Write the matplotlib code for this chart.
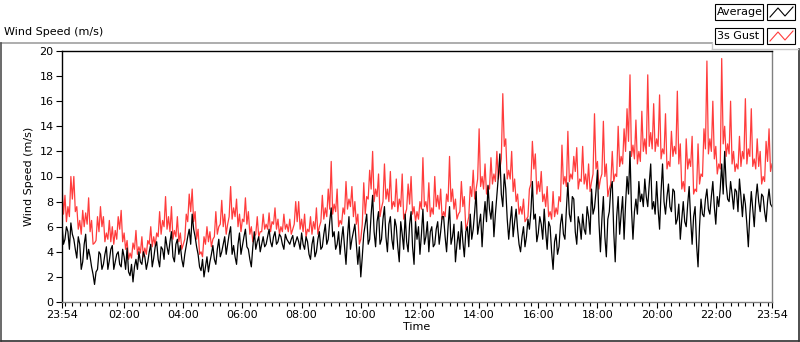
import numpy as np
import matplotlib
matplotlib.use("Agg")
import matplotlib.pyplot as plt
from matplotlib.patches import Rectangle
from matplotlib.lines import Line2D

# readings every 3 minutes after 23:54, kept as two lists:
# *_a at minutes 0, 6, 12, ... and *_b at minutes 3, 9, 15, ...
gust_a = [
    # 23:54 - 03:54
    9.3, 8.5, 7.6, 10.0, 10.0, 7.6, 6.5, 7.3, 7.1, 8.3,
    6.5, 4.7, 6.8, 7.6, 6.8, 5.5, 6.5, 6.0, 5.7, 6.8,
    7.3, 5.5, 4.9, 3.9, 4.7, 5.7, 4.4, 5.2, 4.3, 4.9,
    6.0, 5.2, 5.5, 7.2, 6.5, 8.4, 6.8, 7.6, 5.7, 6.8,
    # 03:54 - 07:54
    5.5, 4.6, 7.0, 8.6, 9.0, 7.2, 5.8, 4.0, 5.2, 6.0,
    5.6, 5.0, 7.2, 6.0, 8.1, 7.0, 6.2, 9.2, 7.5, 8.2,
    7.0, 6.6, 8.3, 7.2, 6.0, 5.2, 6.8, 5.6, 7.0, 6.2,
    7.1, 6.4, 7.5, 6.6, 6.0, 7.0, 6.2, 6.6, 5.8, 8.0,
    # 07:54 - 11:54
    8.0, 6.6, 7.0, 5.8, 6.8, 6.4, 7.5, 6.0, 8.5, 7.5,
    9.0, 11.2, 7.8, 9.0, 6.5, 7.5, 9.6, 8.2, 9.2, 8.0,
    7.0, 5.0, 9.5, 8.4, 10.5, 12.0, 9.0, 10.2, 7.5, 11.0,
    9.0, 10.4, 8.0, 9.8, 8.2, 10.2, 7.0, 9.4, 10.0, 7.6,
    # 11:54 - 15:54
    7.2, 8.0, 11.5, 8.0, 9.5, 7.5, 10.0, 8.5, 9.0, 7.2,
    8.6, 11.6, 9.0, 8.2, 7.0, 9.6, 8.4, 6.2, 9.2, 10.5,
    9.0, 13.8, 10.0, 11.0, 9.2, 11.5, 10.2, 12.0, 10.6, 16.6,
    13.0, 10.5, 12.0, 9.8, 8.6, 7.6, 8.2, 6.6, 9.0, 12.8,
    # 15:54 - 19:54
    11.8, 9.6, 10.4, 8.6, 9.2, 7.2, 8.8, 7.5, 8.4, 12.5,
    10.0, 13.6, 10.2, 11.6, 12.3, 9.8, 12.4, 10.2, 11.0, 9.6,
    15.0, 11.2, 9.8, 14.4, 11.0, 9.0, 12.0, 10.2, 14.0, 11.6,
    13.8, 15.4, 18.1, 12.5, 14.5, 12.0, 15.2, 13.0, 18.1, 13.5,
    # 19:54 - 23:54
    15.8, 13.0, 16.5, 12.2, 15.0, 11.2, 13.6, 12.4, 16.8, 12.6,
    9.6, 13.0, 11.4, 13.2, 9.0, 12.6, 10.2, 13.8, 19.2, 13.0,
    16.0, 12.4, 11.0, 19.4, 14.0, 12.6, 16.0, 12.0, 11.0, 13.2,
    12.0, 16.2, 12.2, 15.4, 11.4, 13.0, 12.0, 10.0, 12.8, 13.8,
    11.0,
]
gust_b = [
    7.0, 6.4, 6.8, 8.2, 7.2, 5.8, 5.4, 6.0, 6.2, 5.6,
    4.6, 4.9, 5.6, 6.0, 4.8, 5.0, 4.8, 4.6, 5.0, 5.8,
    4.8, 4.2, 3.4, 3.5, 4.2, 3.8, 3.9, 3.6, 3.8, 4.6,
    4.4, 4.5, 5.2, 5.4, 6.0, 5.8, 5.6, 5.0, 5.2, 4.8,
    4.2, 5.0, 6.4, 7.2, 6.4, 5.0, 3.8, 3.6, 4.6, 4.8,
    4.4, 5.2, 5.4, 6.2, 6.0, 5.4, 6.8, 6.6, 6.8, 6.0,
    5.6, 6.4, 6.2, 5.4, 4.8, 5.4, 5.2, 5.6, 5.8, 5.8,
    5.6, 6.2, 5.8, 5.4, 5.6, 5.8, 5.6, 5.4, 6.2, 6.4,
    5.8, 5.6, 5.2, 5.6, 5.4, 5.8, 5.4, 6.4, 6.6, 6.8,
    7.4, 7.0, 7.2, 6.0, 6.2, 7.0, 7.4, 7.6, 6.8, 6.2,
    4.6, 6.2, 7.0, 8.2, 9.0, 8.0, 8.4, 6.8, 8.0, 8.2,
    8.0, 7.4, 7.6, 7.2, 7.6, 6.6, 7.4, 7.8, 7.0, 6.4,
    6.6, 7.4, 7.6, 7.2, 6.8, 7.0, 7.6, 7.4, 6.6, 6.8,
    8.0, 8.0, 7.4, 6.6, 7.2, 7.6, 5.8, 6.8, 8.4, 8.2,
    9.8, 9.2, 9.0, 8.6, 9.0, 9.4, 9.6, 9.8, 11.4, 12.4,
    9.8, 9.8, 8.8, 8.0, 7.0, 7.0, 6.4, 6.8, 9.4, 10.6,
    8.6, 8.8, 8.0, 7.6, 6.8, 6.6, 6.8, 7.0, 8.0, 9.4,
    9.2, 9.6, 9.8, 10.4, 9.0, 9.6, 9.4, 9.0, 8.8, 10.2,
    10.6, 9.0, 10.2, 10.0, 8.4, 9.4, 9.6, 10.0, 10.8, 11.0,
    12.0, 12.8, 11.6, 11.4, 11.0, 11.2, 12.0, 11.8, 12.4, 12.2,
    12.0, 12.4, 11.4, 11.8, 10.6, 10.8, 11.6, 11.8, 11.0, 9.0,
    8.8, 10.6, 10.8, 8.6, 8.8, 9.4, 10.0, 12.2, 11.8, 12.0,
    11.4, 10.2, 10.6, 12.6, 11.6, 11.8, 11.0, 10.4, 10.6, 10.8,
    11.4, 11.0, 11.6, 10.8, 10.6, 10.8, 9.4, 9.6, 11.2, 10.4,
]

avg_a = [
    # 23:54 - 03:54
    6.2, 5.0, 5.6, 6.3, 5.0, 3.5, 4.6, 3.2, 5.4, 4.2,
    2.8, 1.4, 2.6, 3.8, 3.0, 4.4, 3.3, 4.5, 3.2, 4.0,
    2.8, 3.6, 4.3, 2.1, 1.6, 3.4, 4.0, 3.0, 3.6, 3.2,
    4.6, 3.5, 4.8, 2.8, 4.2, 5.2, 3.8, 5.6, 3.2, 5.0,
    # 03:54 - 07:54
    4.5, 2.8, 4.5, 5.8, 7.0, 5.2, 3.8, 2.5, 2.0, 3.6,
    3.2, 4.5, 3.0, 5.0, 4.0, 5.2, 4.6, 6.0, 4.5, 3.0,
    5.5, 4.5, 5.8, 4.2, 2.8, 5.6, 4.8, 4.0, 5.2, 4.6,
    5.8, 4.4, 5.6, 4.8, 5.2, 4.2, 5.0, 4.6, 5.3, 4.8,
    # 07:54 - 11:54
    4.8, 5.5, 4.2, 4.8, 3.4, 5.2, 4.0, 5.6, 4.4, 6.2,
    5.0, 7.5, 5.6, 4.6, 3.8, 6.0, 3.0, 6.8, 5.0, 6.2,
    3.0, 2.0, 5.4, 7.0, 5.0, 8.5, 4.4, 7.2, 5.0, 7.6,
    4.0, 6.8, 4.2, 6.0, 3.2, 5.4, 7.0, 4.0, 7.2, 3.0,
    # 11:54 - 15:54
    5.0, 3.8, 7.4, 5.2, 4.0, 6.0, 4.6, 6.4, 5.6, 6.8,
    4.0, 7.6, 5.2, 3.2, 5.6, 6.4, 3.6, 6.0, 7.0, 5.8,
    8.8, 6.2, 4.4, 8.0, 9.3, 6.6, 5.2, 8.5, 11.8, 7.6,
    9.0, 5.0, 7.6, 6.4, 5.8, 4.0, 6.0, 5.2, 5.8, 9.6,
    # 15:54 - 19:54
    7.0, 5.5, 6.2, 7.4, 4.2, 6.0, 2.6, 5.4, 4.4, 7.0,
    5.0, 9.5, 6.4, 8.2, 4.6, 6.2, 7.0, 5.4, 6.8, 9.0,
    7.5, 10.5, 4.0, 8.4, 3.6, 7.2, 9.6, 3.2, 8.4, 7.0,
    5.0, 10.0, 12.0, 5.0, 8.2, 9.6, 8.6, 9.8, 7.6, 11.0,
    # 19:54 - 23:54
    8.0, 9.6, 5.8, 11.0, 7.0, 9.4, 7.2, 8.8, 6.6, 5.0,
    8.0, 6.0, 9.2, 4.6, 7.6, 2.8, 8.2, 6.8, 9.0, 7.0,
    9.6, 6.2, 7.6, 11.0, 12.0, 8.2, 9.6, 7.4, 8.8, 9.8,
    6.8, 7.8, 4.4, 8.8, 6.0, 9.4, 7.2, 8.4, 6.4, 9.0,
    7.6,
]
avg_b = [
    4.6, 6.0, 4.2, 5.4, 4.2, 5.2, 2.6, 4.6, 3.4, 3.6,
    2.2, 2.4, 4.0, 2.6, 3.8, 2.6, 4.2, 2.6, 3.8, 3.0,
    4.2, 2.6, 2.4, 3.0, 2.8, 2.6, 3.2, 4.0, 2.6, 4.0,
    2.8, 4.4, 3.4, 4.4, 3.4, 4.4, 4.8, 3.6, 4.6, 3.8,
    3.4, 3.8, 5.2, 4.6, 5.8, 4.4, 2.8, 3.4, 2.8, 2.4,
    3.8, 3.4, 4.2, 3.6, 4.6, 3.8, 5.4, 3.8, 3.6, 4.6,
    3.8, 5.2, 4.4, 3.4, 4.4, 4.2, 5.2, 4.6, 4.4, 5.2,
    4.8, 5.2, 4.6, 5.4, 4.6, 5.4, 4.8, 5.0, 4.4, 5.2,
    4.2, 4.6, 5.2, 3.8, 4.6, 3.6, 5.0, 4.2, 5.4, 4.6,
    6.4, 5.2, 4.2, 5.6, 5.0, 4.4, 5.2, 4.2, 5.6, 4.6,
    4.4, 3.6, 6.2, 4.6, 7.0, 5.6, 6.4, 4.6, 6.6, 5.2,
    6.2, 5.0, 6.6, 4.4, 6.4, 4.2, 4.8, 6.2, 4.4, 6.4,
    6.0, 5.4, 4.6, 6.4, 5.6, 4.4, 5.8, 4.6, 6.8, 5.2,
    6.0, 4.6, 6.2, 4.6, 4.2, 4.8, 5.6, 4.4, 5.0, 7.2,
    5.4, 7.0, 6.6, 6.4, 7.4, 8.0, 7.0, 10.0, 8.6, 10.2,
    6.6, 6.4, 5.2, 7.4, 4.6, 5.2, 4.4, 6.6, 7.2, 6.6,
    4.8, 6.8, 5.0, 5.6, 6.4, 4.0, 4.8, 3.8, 6.2, 5.4,
    7.4, 7.0, 8.4, 5.6, 6.8, 5.0, 5.8, 7.6, 5.4, 7.0,
    8.8, 6.4, 6.6, 5.2, 6.6, 9.0, 5.6, 6.8, 5.4, 8.4,
    7.8, 8.6, 7.4, 7.2, 7.0, 8.0, 7.6, 8.4, 9.4, 7.4,
    7.0, 7.4, 8.8, 8.0, 8.4, 7.6, 9.0, 6.2, 7.8, 6.6,
    6.4, 7.8, 6.6, 6.8, 4.6, 6.0, 7.0, 8.2, 7.4, 8.4,
    7.6, 8.4, 9.0, 8.6, 9.4, 8.0, 8.6, 9.0, 7.2, 8.4,
    8.6, 6.2, 7.0, 7.4, 8.2, 8.0, 8.6, 7.2, 8.0, 7.8,
]

major_pos = [0, 126, 246, 366, 486, 606, 726, 846, 966, 1086, 1206, 1326, 1440]
major_lab = ["23:54", "02:00", "04:00", "06:00", "08:00", "10:00", "12:00",
             "14:00", "16:00", "18:00", "20:00", "22:00", "23:54"]


def series(a, b):
    t = np.concatenate([np.arange(len(a)) * 6, np.arange(len(b)) * 6 + 3])
    v = np.concatenate([a, b])
    o = np.argsort(t)
    return t[o], v[o]


W, H = 800, 342
fig = plt.figure(figsize=(W / 100, H / 100), dpi=100)
fig.patch.set_facecolor("white")

def fx(x):
    return x / W

def fy(y):
    return 1 - y / H

ax = fig.add_axes([fx(62), fy(302), fx(772) - fx(62), fy(51) - fy(302)])

tg, vg = series(gust_a, gust_b)
ta, va = series(avg_a, avg_b)
ax.plot(tg, vg, color="#ff3c3c", lw=0.9)
ax.plot(ta, va, color="black", lw=0.9)

ax.set_xlim(0, 1440)
ax.set_ylim(0, 20)
ax.set_yticks(np.arange(0, 21, 2))
ax.set_xticks(major_pos)
ax.set_xticklabels(major_lab)
ax.set_xticks(np.arange(6, 1440, 15), minor=True)
ax.tick_params(axis="both", labelsize=8, length=4, width=0.8, pad=2, direction="out")
ax.tick_params(axis="x", which="minor", length=3, width=0.8)

for s in ("left", "top"):
    ax.spines[s].set_color("black")
for s in ("right", "bottom"):
    ax.spines[s].set_color("#808080")
for s in ax.spines.values():
    s.set_linewidth(1.0)

ax.set_ylabel("Wind Speed (m/s)", fontsize=8, labelpad=4)
ax.set_xlabel("Time", fontsize=8, labelpad=1)

# outer panel frame
fig.add_artist(Line2D([fx(0.5), fx(712)], [fy(42.5), fy(42.5)], color="#a0a0a0", lw=1.2))
fig.add_artist(Line2D([fx(0.5), fx(0.5)], [fy(42.5), fy(341)], color="#505050", lw=1.2))
fig.add_artist(Line2D([fx(0.5), fx(799)], [fy(340.5), fy(340.5)], color="#303030", lw=1.2))
fig.add_artist(Line2D([fx(798.5), fx(798.5)], [fy(49), fy(341)], color="#303030", lw=1.2))
fig.add_artist(Line2D([fx(712), fx(798)], [fy(48.5), fy(48.5)], color="#c8c8c8", lw=1.0))
fig.add_artist(Line2D([fx(712), fx(712)], [fy(42.5), fy(48.5)], color="#c8c8c8", lw=1.0))

fig.text(fx(4), fy(32), "Wind Speed (m/s)", fontsize=8, ha="left", va="center")

# legend
for i, (name, col) in enumerate([("Average", "black"), ("3s Gust", "#ff3c3c")]):
    y0 = 4 + i * 24
    fig.add_artist(Rectangle((fx(715), fy(y0 + 16)), fx(48), fy(0) - fy(16),
                             transform=fig.transFigure, fill=False, ec="black", lw=0.8))
    fig.text(fx(717), fy(y0 + 8), name, fontsize=8, ha="left", va="center")
    fig.add_artist(Rectangle((fx(767), fy(y0 + 16)), fx(28), fy(0) - fy(16),
                             transform=fig.transFigure, fill=False, ec="black", lw=0.8))
    fig.add_artist(Line2D([fx(770), fx(778), fx(785), fx(793)],
                          [fy(y0 + 13), fy(y0 + 4), fy(y0 + 12), fy(y0 + 3)],
                          color=col, lw=0.8))

fig.savefig("out.png", dpi=100)
